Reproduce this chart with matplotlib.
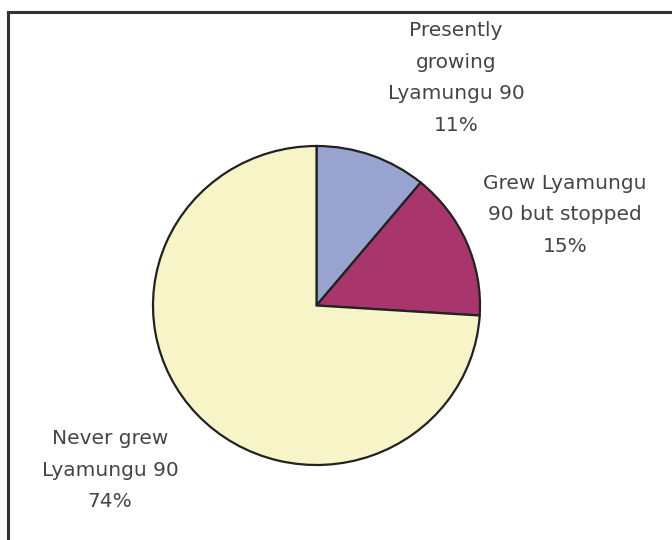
import matplotlib
matplotlib.use('Agg')
import matplotlib.pyplot as plt
from matplotlib.lines import Line2D

# Data
labels = ['Presently\ngrowing\nLyamungu 90', 'Grew Lyamungu\n90 but stopped', 'Never grew\nLyamungu 90']
shares = [11, 15, 74]
colors = ['#98a4cf', '#a8356b', '#f7f4c8']

W, H = 672, 540
fig = plt.figure(figsize=(W/100, H/100), dpi=100)

# pie occupies pixel box x 153..480, y 146..465 (slightly squashed, like the original)
x0, x1, y0, y1 = 153, 480, 146, 465
ax = fig.add_axes([x0/W, 1 - y1/H, (x1 - x0)/W, (y1 - y0)/H])
ax.pie(shares, colors=colors, startangle=90, counterclock=False,
       wedgeprops=dict(edgecolor='#222222', linewidth=1.6))
ax.set_aspect('auto')
ax.set_xlim(-1.0, 1.0)
ax.set_ylim(-1.0, 1.0)
ax.axis('off')

# label centres in pixels
label_pos = [(456, 78), (565, 215), (110, 470)]
for lab, val, (px, py) in zip(labels, shares, label_pos):
    fig.text(px/W, 1 - py/H, '%s\n%d%%' % (lab, val), ha='center', va='center',
             fontsize=14.5, color='#454545', linespacing=1.85, family='DejaVu Sans')

# frame: only the top and left edges are visible in the crop
fig.add_artist(Line2D([8/W, 1.0], [1 - 12/H, 1 - 12/H], transform=fig.transFigure,
                      color='#333333', lw=2.2))
fig.add_artist(Line2D([8/W, 8/W], [0.0, 1 - 12/H], transform=fig.transFigure,
                      color='#333333', lw=2.2))

fig.savefig('out.png', dpi=100)
